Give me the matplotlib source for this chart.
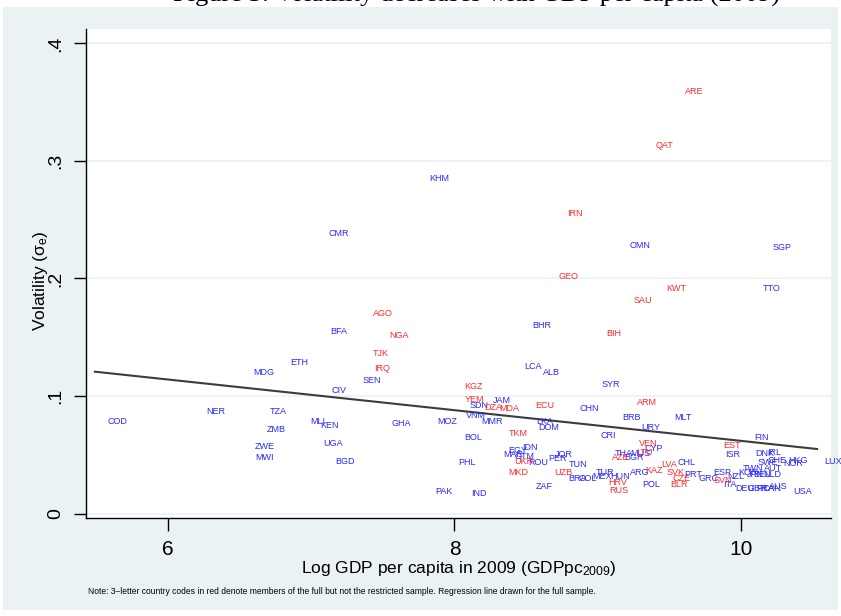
import matplotlib
matplotlib.use('Agg')
import matplotlib.pyplot as plt
from matplotlib.patches import Rectangle

plt.rcParams['font.family'] = ['Liberation Sans', 'DejaVu Sans']
plt.rcParams['mathtext.default'] = 'regular'

# restricted sample (blue): country, log GDP pc 2009, volatility
blue_codes = ['COD', 'NER', 'MDG', 'ETH', 'TZA', 'ZMB', 'ZWE', 'MWI', 'MLI', 'KEN',
              'UGA', 'BGD', 'CIV', 'SEN', 'BFA', 'CMR', 'KHM', 'GHA', 'MOZ', 'BOL',
              'PHL', 'PAK', 'IND', 'SDN', 'VNM', 'JAM', 'MMR', 'LCA', 'ALB', 'BHR',
              'CHN', 'DOM', 'LKA', 'IDN', 'EGY', 'MAR', 'GTM', 'ROU', 'PER', 'JOR',
              'TUN', 'ZAF', 'CRI', 'SYR', 'BRB', 'MLT', 'URY', 'CYP', 'THA', 'MUS',
              'BGR', 'CHL', 'ARG', 'POL', 'PRT', 'GRC', 'ESP', 'NZL', 'ITA', 'ISR',
              'FIN', 'DNK', 'IRL', 'SWE', 'CHE', 'NOR', 'HKG', 'LUX', 'TWN', 'KOR',
              'AUT', 'JPN', 'BEL', 'NLD', 'DEU', 'GBR', 'FRA', 'CAN', 'AUS', 'USA',
              'SGP', 'TTO', 'OMN', 'TUR', 'BRA', 'COL', 'MEX', 'HUN']
blue_gdp = [5.644, 6.335, 6.670, 6.914, 6.768, 6.754, 6.677, 6.677, 7.047, 7.131,
            7.152, 7.236, 7.194, 7.424, 7.194, 7.194, 7.892, 7.627, 7.948, 8.129,
            8.087, 7.927, 8.171, 8.171, 8.150, 8.332, 8.262, 8.548, 8.674, 8.611,
            8.939, 8.660, 8.632, 8.527, 8.443, 8.408, 8.492, 8.583, 8.716, 8.764,
            8.862, 8.625, 9.072, 9.093, 9.239, 9.595, 9.372, 9.393, 9.183, 9.295,
            9.253, 9.616, 9.295, 9.372, 9.665, 9.770, 9.867, 9.965, 9.923, 9.944,
            10.140, 10.168, 10.230, 10.188, 10.251, 10.363, 10.398, 10.642, 10.084, 10.049,
            10.223, 10.098, 10.147, 10.216, 10.028, 10.112, 10.168, 10.216, 10.258, 10.433,
            10.286, 10.216, 9.295, 9.051, 8.862, 8.932, 9.030, 9.155]
blue_vol = [0.0787, 0.0864, 0.1196, 0.1289, 0.0864, 0.0711, 0.0574, 0.0481, 0.0787, 0.0745,
            0.0600, 0.0447, 0.1051, 0.1128, 0.1553, 0.2379, 0.2847, 0.0762, 0.0787, 0.0651,
            0.0438, 0.0191, 0.0174, 0.0923, 0.0830, 0.0966, 0.0779, 0.1247, 0.1204, 0.1604,
            0.0898, 0.0736, 0.0779, 0.0566, 0.0540, 0.0506, 0.0489, 0.0438, 0.0472, 0.0506,
            0.0413, 0.0234, 0.0668, 0.1102, 0.0821, 0.0821, 0.0728, 0.0557, 0.0515, 0.0515,
            0.0481, 0.0438, 0.0345, 0.0243, 0.0336, 0.0302, 0.0345, 0.0311, 0.0243, 0.0506,
            0.0643, 0.0515, 0.0523, 0.0438, 0.0455, 0.0430, 0.0455, 0.0447, 0.0387, 0.0353,
            0.0379, 0.0336, 0.0336, 0.0336, 0.0217, 0.0209, 0.0217, 0.0217, 0.0226, 0.0191,
            0.2260, 0.1911, 0.2277, 0.0345, 0.0302, 0.0302, 0.0311, 0.0319]

# full but not restricted sample (red)
red_codes = ['AGO', 'NGA', 'TJK', 'IRQ', 'KGZ', 'YEM', 'DZA', 'MDA', 'ECU', 'TKM',
             'UKR', 'MKD', 'UZB', 'HRV', 'RUS', 'KAZ', 'LVA', 'SVK', 'CZE', 'BLR',
             'SVN', 'EST', 'VEN', 'LTU', 'AZE', 'ARM', 'BIH', 'SAU', 'KWT', 'GEO',
             'IRN', 'QAT', 'ARE']
red_gdp = [7.501, 7.613, 7.487, 7.494, 8.136, 8.143, 8.269, 8.380, 8.632, 8.443,
           8.485, 8.443, 8.757, 9.141, 9.148, 9.393, 9.497, 9.546, 9.588, 9.567,
           9.874, 9.937, 9.351, 9.323, 9.162, 9.344, 9.113, 9.316, 9.546, 8.792,
           8.841, 9.469, 9.672]
red_vol = [0.1706, 0.1519, 0.1366, 0.1238, 0.1085, 0.0974, 0.0906, 0.0898, 0.0923, 0.0685,
           0.0447, 0.0353, 0.0353, 0.0260, 0.0200, 0.0370, 0.0413, 0.0345, 0.0302, 0.0251,
           0.0277, 0.0583, 0.0600, 0.0523, 0.0481, 0.0949, 0.1528, 0.1817, 0.1919, 0.2013,
           0.2549, 0.3128, 0.3587]

# fitted line (full sample)
fit_gdp = [5.49, 10.531]
fit_vol = [0.1207, 0.0549]

yticks = [0, 0.1, 0.2, 0.3, 0.4]
ytick_labels = ['0', '.1', '.2', '.3', '.4']
xticks = [6, 8, 10]

W, H = 841, 616
fig = plt.figure(figsize=(W / 100, H / 100), dpi=100, facecolor='white')
fig.patches.append(Rectangle((3 / W, 6 / H), 835 / W, 603 / H, transform=fig.transFigure,
                             facecolor='#eaf2f3', edgecolor='none', zorder=-5))

ax = fig.add_axes([86 / W, (H - 518) / H, 745 / W, 489 / H])
ax.set_zorder(2)
ax.set_facecolor('white')
ax.set_xlim(5.428, 10.628)
ax.set_ylim(-0.0038, 0.4123)

for y in yticks:
    ax.axhline(y, color='#eaf2f3', lw=1.2, zorder=1)

ax.plot(fit_gdp, fit_vol, color='#3c3c3c', lw=1.5, zorder=2)

for c, x, y in zip(blue_codes, blue_gdp, blue_vol):
    ax.text(x, y, c, color='#2828ff', fontsize=6.5, ha='center', va='center', zorder=3)
for c, x, y in zip(red_codes, red_gdp, red_vol):
    ax.text(x, y, c, color='#ff2828', fontsize=6.5, ha='center', va='center', zorder=3)

for s in ['top', 'right']:
    ax.spines[s].set_visible(False)
for s in ['left', 'bottom']:
    ax.spines[s].set_linewidth(1.0)
    ax.spines[s].set_color('black')

ax.set_yticks(yticks)
ax.set_yticklabels(ytick_labels)
ax.set_xticks(xticks)
ax.set_xticklabels([str(t) for t in xticks])
ax.tick_params(axis='y', labelrotation=90, length=9, width=1, pad=7, labelsize=14)
ax.tick_params(axis='x', length=9, width=1, pad=7, labelsize=15)
for lab in ax.get_yticklabels():
    lab.set_va('center')

ax.set_xlabel('Log GDP per capita in 2009 (GDPpc$_{2009}$)', fontsize=12.5)
ax.xaxis.set_label_coords((459 - 86) / 745, -(568 - 518) / 489)
ax.xaxis.label.set_va('center')
ax.set_ylabel('Volatility (σ$_e$)', fontsize=12.5)
ax.yaxis.set_label_coords(-(86 - 40) / 745, (518 - 281) / 489)
ax.yaxis.label.set_va('center')

fig.text(88 / W, 1 - 592 / H,
         'Note: 3\u2013letter country codes in red denote members of the full but not the restricted sample. '
         'Regression line drawn for the full sample.',
         fontsize=6.15, ha='left', va='center')

fig.text(477 / W, 1 - 2 / H, 'Figure 3: Volatility decreases with GDP per capita (2009)',
         family='Liberation Serif', fontsize=19, ha='center', va='baseline')

fig.savefig('out.png', dpi=100)
